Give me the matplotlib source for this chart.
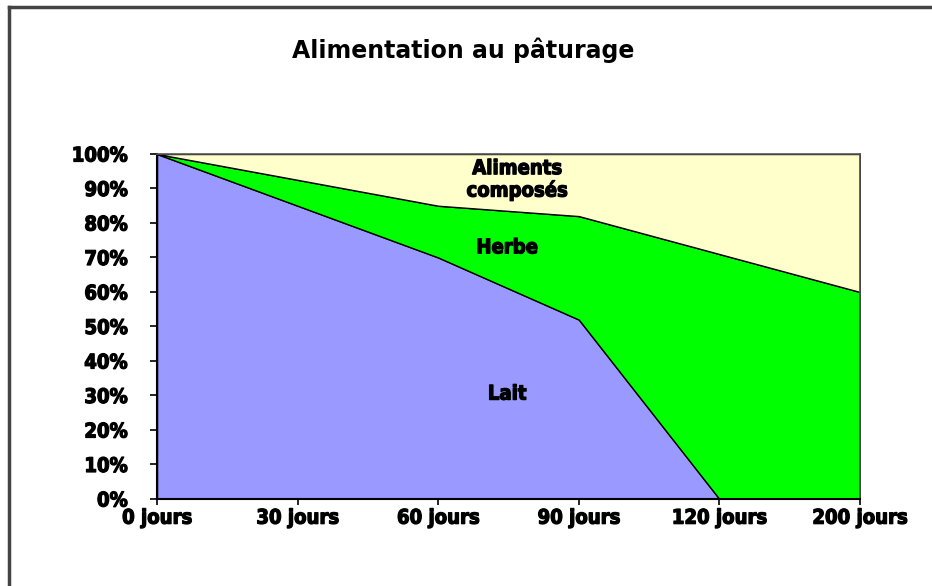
import numpy as np
import matplotlib.pyplot as plt
import matplotlib.patheffects as pe
from matplotlib.lines import Line2D

# data
jours = ["0 jours", "30 jours", "60 jours", "90 jours", "120 jours", "200 jours"]
lait = [100, 85, 70, 52, 0, 0]
herbe = [0, 7.5, 15, 30, 71, 60]
aliments = [0, 7.5, 15, 18, 29, 40]

heavy = [pe.withStroke(linewidth=0.9, foreground="black")]
tick_font = dict(family="DejaVu Sans", weight="bold", size=14.5, stretch="condensed")

fig = plt.figure(figsize=(9.32, 5.86), dpi=100)
ax = fig.add_axes([0.1685, 0.1485, 0.7542, 0.5887])

x = np.arange(len(jours))
ax.stackplot(x, lait, herbe, aliments,
             colors=["#9999ff", "#00ff00", "#ffffcc"],
             edgecolor="black", linewidth=1.0)

ax.set_xlim(0, len(jours) - 1)
ax.set_ylim(0, 100)
ax.set_xticks(x)
ax.set_xticklabels(jours, **tick_font)
ax.set_yticks(np.arange(0, 101, 10))
ax.set_yticklabels([f"{v}%" for v in range(0, 101, 10)], **tick_font)
for t in ax.get_xticklabels() + ax.get_yticklabels():
    t.set_path_effects(heavy)
ax.tick_params(axis="y", direction="out", length=5, width=1.2, pad=16)
ax.tick_params(axis="x", direction="out", length=4, width=1.2, pad=3)

for side in ["left", "bottom"]:
    ax.spines[side].set_color("black")
    ax.spines[side].set_linewidth(1.5)
for side in ["top", "right"]:
    ax.spines[side].set_color("#555555")
    ax.spines[side].set_linewidth(1.2)

# in-area labels
lab = dict(ha="center", va="center", path_effects=heavy, **tick_font)
ax.text(2.56, 92.5, "Aliments\ncomposés", linespacing=1.15, **lab)
ax.text(2.49, 72.8, "Herbe", **lab)
ax.text(2.49, 30.4, "Lait", **lab)

fig.text(0.497, 0.914, "Alimentation au pâturage", ha="center", va="center",
         fontsize=17, weight="bold", family="DejaVu Sans")

# chart frame (left and top edges visible)
fig.add_artist(Line2D([0.0097, 0.0097], [0.0, 0.9883], color="#444444", lw=2.5))
fig.add_artist(Line2D([0.0097, 1.0], [0.9883, 0.9883], color="#444444", lw=2.5))

fig.savefig("out.png", dpi=100)
